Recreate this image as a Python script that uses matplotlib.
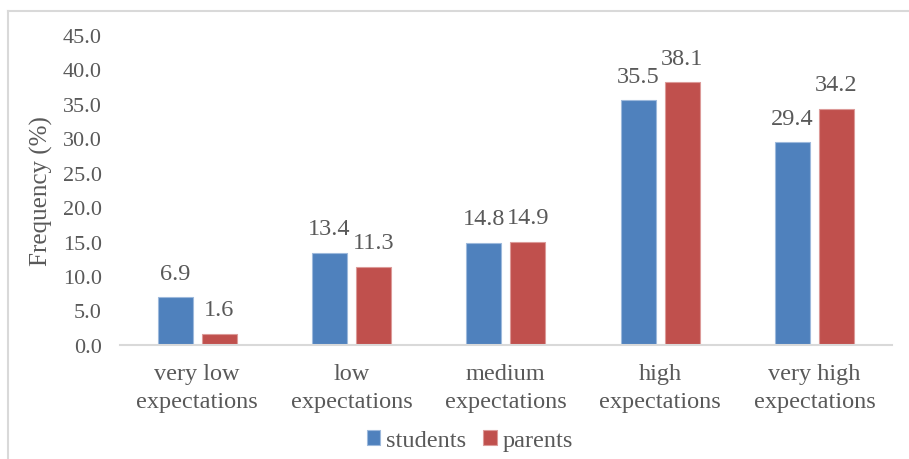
import numpy as np
import matplotlib.pyplot as plt
from matplotlib.lines import Line2D

plt.rcParams['font.family'] = ['Liberation Serif', 'DejaVu Serif']

categories = ['very low\nexpectations', 'low\nexpectations', 'medium\nexpectations',
              'high\nexpectations', 'very high\nexpectations']
students = [6.9, 13.4, 14.8, 35.5, 29.4]
parents = [1.6, 11.3, 14.9, 38.1, 34.2]
yticks = [0, 5, 10, 15, 20, 25, 30, 35, 40, 45]

blue = '#4F81BD'
red = '#C0504D'
txt = '#595959'
grey = '#D9D9D9'

fig = plt.figure(figsize=(9.09, 4.6), dpi=100)
ax = fig.add_axes([0.132, 0.248, 0.849, 0.674])

x = np.arange(len(categories))
w = 0.227
off = 0.1425
b1 = ax.bar(x - off, students, w, color=blue, edgecolor='#9DB9DC', linewidth=0.8, label='students')
b2 = ax.bar(x + off, parents, w, color=red, edgecolor='#DC9A98', linewidth=0.8, label='parents')

for bars, vals in [(b1, students), (b2, parents)]:
    for r, v in zip(bars, vals):
        ax.annotate(f'{v:.1f}', (r.get_x() + r.get_width() / 2, v),
                    xytext=(0, 17.5), textcoords='offset points',
                    ha='center', va='center', fontsize=17.5, color=txt)

ax.set_xlim(-0.5, len(categories) - 0.5)
ax.set_ylim(0, 45)
ax.set_yticks(yticks)
ax.set_yticklabels([f'{t:.1f}' for t in yticks], fontsize=16, color=txt)
ax.set_xticks(x)
ax.set_xticklabels(categories, fontsize=17.5, color=txt, linespacing=1.45)
ax.tick_params(axis='y', length=0, pad=13)
ax.tick_params(axis='x', length=0, pad=13)

for s in ['top', 'right', 'left']:
    ax.spines[s].set_visible(False)
ax.spines['bottom'].set_color(grey)
ax.spines['bottom'].set_linewidth(1.5)

ax.set_ylabel('Frequency (%)', fontsize=18, color=txt, labelpad=7)

fig.legend(handles=[b1, b2], loc='center', bbox_to_anchor=(0.517, 0.04),
           ncol=2, frameon=False, fontsize=17.5, labelcolor=txt,
           handlelength=0.55, handleheight=0.55, handletextpad=0.25,
           columnspacing=0.7, borderpad=0)

# chart frame
fig.add_artist(Line2D([8 / 909, 1], [1 - 12 / 460] * 2, color=grey, lw=1.5))
fig.add_artist(Line2D([8 / 909] * 2, [0, 1 - 12 / 460], color=grey, lw=1.5))

fig.savefig('out.png', dpi=100)
